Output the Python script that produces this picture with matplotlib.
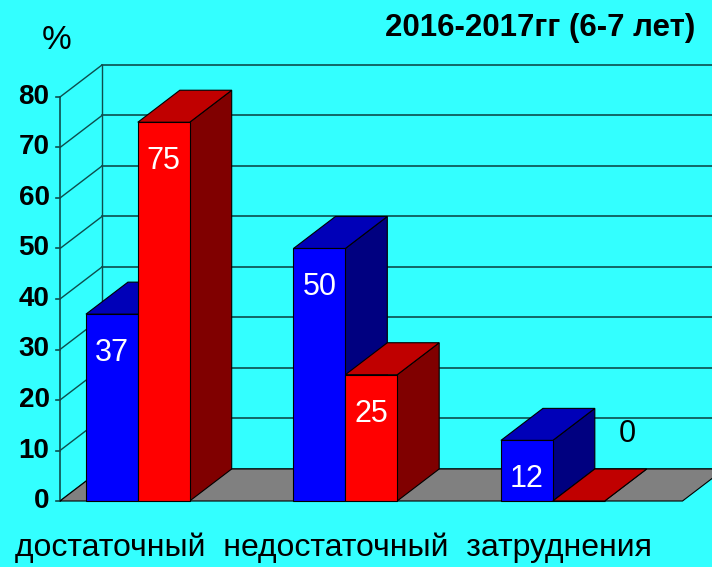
import numpy as np
import matplotlib
matplotlib.use('Agg')
import matplotlib.pyplot as plt
from matplotlib.patches import Polygon

plt.rcParams['font.family'] = ['Liberation Sans', 'DejaVu Sans']

categories = ['достаточный', 'недостаточный', 'затруднения']
blue_vals = [37, 50, 12]
red_vals = [75, 25, 0]
yticks = [0, 10, 20, 30, 40, 50, 60, 70, 80]
title = '2016-2017гг (6-7 лет)'

BG = '#33ffff'
GRID = '#0d4d4d'
blue = ('#0000ff', '#0000b8', '#000080')   # front, top, side
red = ('#ff0000', '#c00000', '#800000')

# oblique depth offset in data units (category units / percent)
DX, DY = 0.2024, 6.34
W = 0.25        # bar width
OFF = 0.125     # left gap inside category

fig = plt.figure(figsize=(7.12, 5.67), dpi=100, facecolor=BG)
ax = fig.add_axes([0, 0, 1, 1])
ax.set_facecolor(BG)
ax.axis('off')
ax.set_xlim(-60 / 207.5, 652 / 207.5)
ax.set_ylim((501 - 567) / 5.05, 501 / 5.05)

n = len(categories)
ymax = yticks[-1]

# back wall grid + side wall lines
for t in yticks:
    ax.plot([DX, n + DX], [t + DY, t + DY], color=GRID, lw=1.2, zorder=1)
    ax.plot([0, DX], [t, t + DY], color=GRID, lw=1.0, zorder=1)
    ax.plot([-0.018, 0], [t, t], color=GRID, lw=1.2, zorder=1)
    ax.text(-0.05, t, str(t), ha='right', va='center', fontsize=20,
            fontweight='bold', color='black')
ax.plot([DX, DX], [DY, ymax + DY], color=GRID, lw=1.0, zorder=1)
ax.plot([0, 0], [0, ymax], color=GRID, lw=1.2, zorder=1)

# floor
ax.add_patch(Polygon([(0, 0), (n, 0), (n + DX, DY), (DX, DY)], closed=True,
                     facecolor='#808080', edgecolor='black', lw=0.8, zorder=2))


def bar3d(x, v, cols):
    front, top, side = cols
    ax.add_patch(Polygon([(x + W, 0), (x + W + DX, DY), (x + W + DX, v + DY), (x + W, v)],
                         closed=True, facecolor=side, edgecolor='black', lw=0.8, zorder=3))
    ax.add_patch(Polygon([(x, v), (x + DX, v + DY), (x + W + DX, v + DY), (x + W, v)],
                         closed=True, facecolor=top, edgecolor='black', lw=0.8, zorder=3))
    ax.add_patch(Polygon([(x, 0), (x + W, 0), (x + W, v), (x, v)],
                         closed=True, facecolor=front, edgecolor='black', lw=0.8, zorder=3))
    if v > 0:
        ax.text(x + W / 2, v - 7.7, str(v), ha='center', va='center',
                fontsize=22, color='white', zorder=4)
    else:
        ax.text(x + W / 2 + DX + 0.03, v + DY + 7, str(v), ha='center', va='center',
                fontsize=22, color='black', zorder=4)


for i in range(n):
    bar3d(i + OFF, blue_vals[i], blue)
    bar3d(i + OFF + W, red_vals[i], red)

fig.text(0.976, 0.951, title, ha='right', va='center', fontsize=22.5, fontweight='bold')
fig.text(0.080, 0.929, '%', ha='center', va='center', fontsize=24)
fig.text(15 / 712, 1 - 548 / 567, '  '.join(categories), ha='left', va='center', fontsize=23)

fig.savefig('out.png', dpi=100, facecolor=BG)
